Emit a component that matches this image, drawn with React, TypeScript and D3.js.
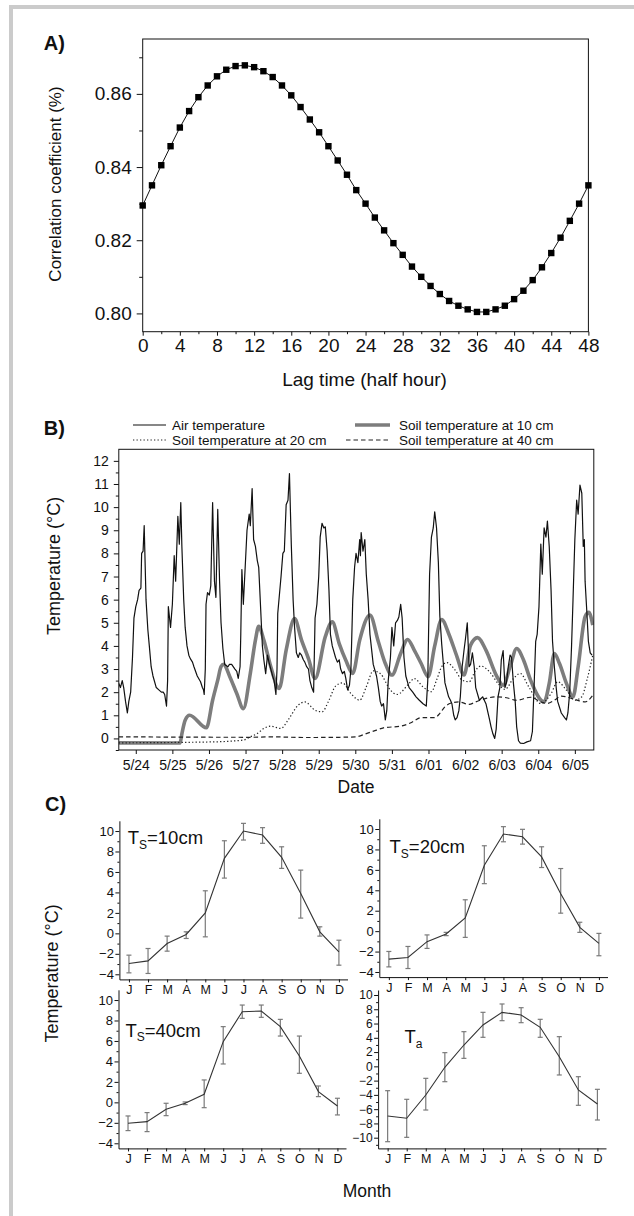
import React, { useRef, useEffect } from 'react';
import * as d3 from 'd3';

const W = 634;
const H = 1216;
const FONT = 'Arial, "Liberation Sans", Helvetica, sans-serif';

// ---------- A) correlation vs lag ----------
const lagSteps = d3.range(0, 49);
const corrCoef = [
  0.8295, 0.835, 0.8405, 0.8457, 0.8508, 0.8553, 0.8591, 0.8623, 0.8648, 0.8666,
  0.8676, 0.8678, 0.8673, 0.8662, 0.8646, 0.8623, 0.8596, 0.8564, 0.853, 0.8495,
  0.8457, 0.8418, 0.8379, 0.8337, 0.83, 0.8262, 0.8227, 0.8192, 0.816, 0.8128,
  0.81, 0.8075, 0.8053, 0.8034, 0.8021, 0.8011, 0.8004, 0.8004, 0.8011, 0.8021,
  0.8039, 0.8062, 0.8091, 0.8126, 0.8165, 0.8207, 0.8253, 0.83, 0.835,
];
const corrMajor = [0.8, 0.82, 0.84, 0.86];
const corrMinor = [0.81, 0.83, 0.85, 0.87];
const lagMajor = [0, 4, 8, 12, 16, 20, 24, 28, 32, 36, 40, 44, 48];
const lagMinor = [2, 6, 10, 14, 18, 22, 26, 30, 34, 38, 42, 46];

// ---------- B) temperatures, [days after 5/24 00:00, °C] ----------
const airTemp: [number, number][] = [
  [-0.47, 2.4], [-0.42, 2.2], [-0.37, 2.5], [-0.33, 2.2], [-0.28, 1.6], [-0.23, 1.1], [-0.19, 1.6], [-0.14, 2.0],
  [-0.09, 3.5], [-0.05, 5.2], [0.0, 5.7], [0.05, 6.0], [0.09, 6.4], [0.14, 6.5], [0.16, 8.0], [0.2, 8.1], [0.23, 9.2],
  [0.28, 6.0], [0.33, 4.7], [0.37, 4.0], [0.42, 3.1], [0.47, 2.7], [0.56, 2.2], [0.63, 2.1], [0.7, 2.0], [0.75, 2.0],
  [0.79, 1.9], [0.84, 1.4], [0.87, 2.5], [0.89, 5.7], [0.95, 4.8], [1.0, 5.8], [1.05, 7.9], [1.09, 6.8], [1.15, 9.6],
  [1.19, 8.4], [1.23, 10.2], [1.26, 8.3], [1.31, 6.0], [1.35, 4.8], [1.4, 4.0], [1.45, 3.6], [1.49, 3.45], [1.55, 3.3],
  [1.59, 3.1], [1.68, 2.7], [1.77, 2.45], [1.82, 2.2], [1.85, 2.1], [1.87, 1.9], [1.9, 3.0], [1.92, 5.8], [1.96, 6.3],
  [2.01, 6.2], [2.05, 6.6], [2.1, 10.2], [2.15, 6.8], [2.19, 6.1], [2.24, 9.9], [2.29, 6.8], [2.33, 5.0], [2.38, 3.9],
  [2.43, 3.2], [2.52, 3.1], [2.56, 3.2], [2.62, 3.2], [2.71, 3.0], [2.76, 2.9], [2.8, 2.6], [2.85, 3.1], [2.87, 4.5],
  [2.9, 7.3], [2.94, 5.8], [2.99, 7.4], [3.04, 9.0], [3.1, 9.7], [3.13, 9.2], [3.18, 10.8], [3.22, 8.6], [3.27, 8.3],
  [3.32, 7.7], [3.36, 7.4], [3.41, 5.7], [3.46, 4.0], [3.5, 3.4], [3.55, 2.8], [3.6, 3.6], [3.64, 3.3], [3.69, 3.0],
  [3.74, 2.7], [3.78, 2.5], [3.83, 1.9], [3.86, 3.0], [3.88, 5.4], [3.97, 7.0], [4.02, 8.0], [4.06, 8.1], [4.11, 10.1],
  [4.16, 10.3], [4.2, 11.45], [4.25, 8.4], [4.3, 6.0], [4.34, 4.8], [4.39, 3.7], [4.44, 3.5], [4.48, 3.7], [4.53, 3.6],
  [4.58, 3.4], [4.62, 3.3], [4.67, 3.1], [4.72, 3.0], [4.76, 2.5], [4.81, 2.2], [4.86, 2.0], [4.9, 5.2], [4.95, 5.8],
  [5.0, 7.0], [5.04, 8.7], [5.09, 9.3], [5.14, 9.1], [5.18, 9.15], [5.23, 8.1], [5.28, 6.4], [5.32, 4.5], [5.37, 4.0],
  [5.46, 3.5], [5.51, 3.3], [5.56, 3.4], [5.6, 3.0], [5.65, 2.8], [5.7, 2.9], [5.74, 2.6], [5.79, 2.1], [5.84, 2.3],
  [5.88, 3.0], [5.93, 6.0], [5.98, 7.4], [6.02, 8.0], [6.07, 7.6], [6.12, 8.6], [6.14, 7.9], [6.16, 8.9], [6.21, 8.1],
  [6.26, 8.6], [6.3, 7.1], [6.35, 6.0], [6.4, 4.5], [6.49, 3.2], [6.58, 2.7], [6.63, 2.2], [6.68, 1.6], [6.72, 1.4],
  [6.77, 1.5], [6.82, 0.8], [6.86, 1.2], [6.9, 2.5], [6.96, 3.5], [7.0, 4.8], [7.05, 4.0], [7.1, 5.0], [7.15, 5.1],
  [7.19, 5.25], [7.24, 5.8], [7.28, 5.2], [7.33, 3.5], [7.38, 2.7], [7.47, 2.2], [7.57, 2.0], [7.66, 1.8], [7.75, 1.65],
  [7.85, 1.5], [7.94, 1.4], [7.98, 2.5], [8.03, 7.1], [8.08, 8.7], [8.13, 9.1], [8.17, 9.8], [8.22, 9.1], [8.27, 7.6],
  [8.31, 5.3], [8.36, 4.1], [8.45, 2.4], [8.55, 1.8], [8.6, 1.65], [8.64, 1.5], [8.69, 1.0], [8.73, 0.8], [8.78, 0.9],
  [8.83, 1.2], [8.87, 1.8], [8.92, 3.1], [8.97, 3.8], [9.01, 4.3], [9.06, 5.0], [9.11, 3.1], [9.15, 3.2], [9.2, 3.7],
  [9.25, 3.1], [9.29, 2.2], [9.39, 1.65], [9.48, 1.8], [9.57, 1.5], [9.67, 0.8], [9.71, 0.5], [9.76, 0.2], [9.81, 0.0],
  [9.85, 0.4], [9.9, 1.8], [9.95, 2.2], [9.99, 3.4], [10.04, 3.8], [10.09, 2.2], [10.13, 2.4], [10.18, 3.1], [10.23, 3.6],
  [10.27, 3.5], [10.32, 2.4], [10.37, 1.6], [10.41, 0.5], [10.46, -0.1], [10.51, -0.2], [10.6, -0.22], [10.69, -0.15],
  [10.79, -0.1], [10.84, 0.3], [10.88, 2.0], [10.93, 4.2], [10.97, 4.5], [11.02, 5.7], [11.07, 8.4], [11.11, 7.1],
  [11.16, 9.1], [11.21, 8.7], [11.25, 9.4], [11.3, 8.3], [11.35, 6.4], [11.39, 4.2], [11.44, 3.1], [11.49, 2.2],
  [11.53, 1.6], [11.63, 1.1], [11.72, 0.9], [11.77, 0.8], [11.81, 1.1], [11.86, 2.0], [11.91, 4.0], [11.95, 6.0],
  [12.0, 8.6], [12.05, 10.3], [12.09, 9.7], [12.14, 10.95], [12.19, 10.6], [12.23, 8.3], [12.26, 8.6], [12.28, 6.8],
  [12.33, 5.4], [12.37, 4.2], [12.42, 3.7], [12.47, 3.6],
];
const soil10: [number, number][] = [
  [-0.47, -0.19], [1.21, -0.2], [1.26, 0.2], [1.35, 0.79], [1.47, 1.0], [1.93, 0.46], [2.1, 1.65], [2.24, 2.52],
  [2.33, 3.1], [2.4, 3.2], [2.57, 2.67], [2.76, 1.94], [2.94, 1.29], [3.13, 2.81], [3.27, 4.25], [3.36, 4.85],
  [3.5, 4.25], [3.69, 3.1], [3.92, 2.16], [4.11, 3.82], [4.34, 5.18], [4.53, 4.25], [4.72, 3.45], [4.9, 2.59],
  [5.18, 4.4], [5.37, 5.04], [5.56, 4.1], [5.74, 3.38], [5.93, 2.81], [6.12, 4.25], [6.4, 5.33], [6.63, 4.18],
  [6.82, 3.24], [7.0, 2.74], [7.24, 3.67], [7.43, 4.28], [7.61, 3.82], [7.8, 3.24], [7.99, 2.67], [8.17, 4.0],
  [8.36, 5.14], [8.55, 4.54], [8.78, 3.53], [8.97, 2.74], [9.15, 4.03], [9.34, 4.36], [9.57, 3.82], [9.85, 2.74],
  [10.04, 2.3], [10.23, 3.1], [10.41, 3.89], [10.6, 3.38], [10.79, 2.52], [11.16, 1.58], [11.3, 2.38], [11.44, 3.67],
  [11.58, 3.24], [11.77, 2.38], [11.95, 1.8], [12.09, 3.1], [12.28, 5.26], [12.38, 5.45], [12.49, 4.9],
];
const soil20: [number, number][] = [
  [-0.47, -0.19], [2.1, -0.15], [2.94, -0.07], [3.13, 0.07], [3.32, 0.21], [3.5, 0.43], [3.69, 0.53], [3.97, 0.43],
  [4.16, 0.79], [4.44, 1.44], [4.62, 1.58], [4.9, 1.22], [5.09, 1.15], [5.28, 1.65], [5.46, 2.26], [5.65, 2.4],
  [5.88, 1.94], [6.12, 1.65], [6.3, 2.23], [6.49, 2.92], [6.68, 2.81], [6.96, 2.09], [7.14, 1.9], [7.47, 2.38],
  [7.61, 2.59], [7.85, 2.23], [8.08, 2.02], [8.22, 2.52], [8.36, 3.1], [8.5, 3.28], [8.73, 2.95], [8.92, 2.52],
  [9.11, 2.45], [9.29, 2.95], [9.43, 3.13], [9.67, 2.88], [9.9, 2.38], [10.09, 2.12], [10.32, 2.59], [10.51, 2.81],
  [10.74, 2.23], [11.07, 1.51], [11.35, 1.94], [11.53, 2.45], [11.77, 2.09], [12.0, 1.65], [12.19, 1.8], [12.33, 2.52],
  [12.49, 3.6],
];
const soil40: [number, number][] = [
  [-0.47, 0.07], [3.13, 0.05], [3.69, 0.07], [4.62, 0.04], [5.56, 0.05], [6.02, 0.07], [6.3, 0.21], [6.58, 0.36],
  [6.77, 0.46], [7.24, 0.53], [7.52, 0.68], [7.8, 0.9], [8.17, 0.9], [8.31, 1.08], [8.45, 1.37], [8.64, 1.54],
  [8.83, 1.58], [9.11, 1.47], [9.29, 1.58], [9.57, 1.73], [9.85, 1.8], [10.13, 1.76], [10.41, 1.65], [10.79, 1.78],
  [11.07, 1.58], [11.25, 1.51], [11.44, 1.65], [11.63, 1.83], [11.91, 1.73], [12.28, 1.58], [12.49, 1.87],
];
const dateLabels = ['5/24', '5/25', '5/26', '5/27', '5/28', '5/29', '5/30', '5/31', '6/01', '6/02', '6/03', '6/04', '6/05'];
const tempTicksB = [0, 1, 2, 3, 4, 5, 6, 7, 8, 9, 10, 11, 12];
const tempMinorB = [-0.5, 0.5, 1.5, 2.5, 3.5, 4.5, 5.5, 6.5, 7.5, 8.5, 9.5, 10.5, 11.5];
const legendB = ['Air temperature', 'Soil temperature at 10 cm', 'Soil temperature at 20 cm', 'Soil temperature at 40 cm'];

// ---------- C) monthly means with error bars ----------
const months = ['J', 'F', 'M', 'A', 'M', 'J', 'J', 'A', 'S', 'O', 'N', 'D'];
const ts10Mean = [-2.95, -2.69, -0.99, -0.11, 2.0, 7.33, 10.0, 9.61, 7.43, 3.9, 0.15, -1.81];
const ts10Hi = [-2.13, -1.48, -0.27, 0.15, 4.16, 9.05, 10.75, 10.33, 8.46, 6.18, 0.64, -0.67];
const ts10Lo = [-3.86, -3.92, -1.74, -0.5, -0.34, 5.4, 9.12, 8.8, 6.35, 1.49, -0.27, -3.11];
const ts20Mean = [-2.74, -2.58, -1.03, -0.28, 1.3, 6.45, 9.51, 9.24, 7.27, 3.67, 0.37, -1.2];
const ts20Hi = [-1.99, -1.5, -0.37, -0.12, 3.07, 8.36, 10.23, 9.97, 8.26, 6.13, 0.87, -0.22];
const ts20Lo = [-3.5, -3.66, -1.69, -0.44, -0.61, 4.65, 8.75, 8.52, 6.23, 1.76, -0.12, -2.41];
const ts40Mean = [-2.04, -1.88, -0.68, -0.09, 0.79, 5.93, 8.86, 8.93, 7.4, 4.53, 1.05, -0.35];
const ts40Hi = [-1.33, -1.0, -0.09, 0.04, 2.19, 7.4, 9.51, 9.51, 8.11, 6.48, 1.6, 0.4];
const ts40Lo = [-2.76, -2.86, -1.3, -0.22, -0.52, 3.75, 8.21, 8.31, 6.48, 2.84, 0.56, -1.23];
const taMean = [-6.96, -7.28, -4.02, -0.13, 2.99, 5.8, 7.57, 7.2, 5.47, 1.35, -3.31, -5.28];
const taHi = [-3.41, -4.62, -1.68, 1.92, 4.86, 7.57, 8.74, 8.22, 6.59, 4.16, -1.45, -3.22];
const taLo = [-10.56, -9.95, -6.12, -2.15, 1.12, 4.07, 6.4, 6.12, 4.07, -1.21, -5.46, -7.52];
const soilTicks = [-4, -2, 0, 2, 4, 6, 8, 10];
const soilMinor = [-3, -1, 1, 3, 5, 7, 9];
const airTicks = [-10, -8, -6, -4, -2, 0, 2, 4, 6, 8, 10];
const airMinor = [-11, -9, -7, -5, -3, -1, 1, 3, 5, 7, 9];

const baseDay = new Date(2010, 4, 24).getTime();
const dayDate = (t: number) => new Date(baseDay + t * 864e5);
const parseDate = d3.timeParse('%Y/%m/%d');

function styleAxis(g: any, size: number) {
  g.attr('font-family', FONT).attr('font-size', size);
  g.selectAll('.tick text').attr('fill', '#111');
  g.selectAll('.tick line').attr('stroke', '#111');
}

const App: React.FC = () => {
  const svgRef = useRef<SVGSVGElement>(null);

  useEffect(() => {
    if (!svgRef.current) return;
    const svg = d3.select(svgRef.current);
    svg.selectAll('*').remove();

    svg.append('rect').attr('width', W).attr('height', H).attr('fill', '#fff');
    // light grey page frame (left and top)
    svg.append('rect').attr('x', 9).attr('y', 5).attr('width', W - 9).attr('height', 4).attr('fill', '#cbcbcb');
    svg.append('rect').attr('x', 9).attr('y', 5).attr('width', 4).attr('height', H - 5).attr('fill', '#cbcbcb');

    const text = (x: number, y: number, s: string, size: number, anchor = 'start', weight = 'normal') =>
      svg.append('text').attr('x', x).attr('y', y).attr('font-family', FONT).attr('font-size', size)
        .attr('font-weight', weight).attr('text-anchor', anchor).attr('fill', '#111').text(s);
    const yTitle = (x: number, y: number, s: string, size: number) =>
      svg.append('text').attr('transform', `translate(${x},${y}) rotate(-90)`).attr('text-anchor', 'middle')
        .attr('font-family', FONT).attr('font-size', size).attr('fill', '#111').text(s);

    // ================= A =================
    const ax = d3.scaleLinear().domain([0, 48]).range([142.7, 588.4]);
    const ay = d3.scaleLinear().domain([0.795, 0.875]).range([331.7, 39]);
    const gA = svg.append('g');
    gA.append('g').attr('transform', `translate(${ax(0)},0)`)
      .call(d3.axisLeft(ay).tickValues(corrMajor).tickFormat(d3.format('.2f')).tickSize(6).tickPadding(5).tickSizeOuter(0))
      .call(styleAxis, 19).call(g => g.select('.domain').remove());
    gA.append('g').attr('transform', `translate(${ax(0)},0)`)
      .call(d3.axisLeft(ay).tickValues(corrMinor).tickFormat(() => '').tickSize(3.5).tickSizeOuter(0))
      .call(styleAxis, 19).call(g => g.select('.domain').remove());
    gA.append('g').attr('transform', `translate(0,${ay.range()[0]})`)
      .call(d3.axisBottom(ax).tickValues(lagMajor).tickFormat(d3.format('d')).tickSize(4).tickPadding(3).tickSizeOuter(0))
      .call(styleAxis, 19).call(g => g.select('.domain').remove());
    gA.append('g').attr('transform', `translate(0,${ay.range()[0]})`)
      .call(d3.axisBottom(ax).tickValues(lagMinor).tickFormat(() => '').tickSize(2.5).tickSizeOuter(0))
      .call(styleAxis, 19).call(g => g.select('.domain').remove());
    gA.append('rect').attr('x', ax(0)).attr('y', ay.range()[1])
      .attr('width', ax(48) - ax(0)).attr('height', ay.range()[0] - ay.range()[1])
      .attr('fill', 'none').attr('stroke', '#111').attr('stroke-width', 1);
    const corrPts = lagSteps.map((l, i) => [l, corrCoef[i]] as [number, number]);
    gA.append('path').datum(corrPts)
      .attr('d', d3.line<[number, number]>().x(d => ax(d[0])).y(d => ay(d[1])))
      .attr('fill', 'none').attr('stroke', '#111').attr('stroke-width', 1);
    gA.selectAll('.sq').data(corrPts).enter().append('rect')
      .attr('x', d => ax(d[0]) - 3.2).attr('y', d => ay(d[1]) - 3.2)
      .attr('width', 6.4).attr('height', 6.4).attr('fill', '#000');
    text(43.7, 50, 'A)', 20, 'start', 'bold');
    text(364.5, 386, 'Lag time (half hour)', 19, 'middle');
    yTitle(61, 184, 'Correlation coefficient (%)', 17);

    // ================= B =================
    const bx = d3.scaleTime().domain([dayDate(-0.464), dayDate(12.518)]).range([118.8, 593.8]);
    const by = d3.scaleLinear().domain([-0.5, 12.5]).range([750, 449.3]);
    const gB = svg.append('g');
    gB.append('g').attr('transform', `translate(${bx.range()[0]},0)`)
      .call(d3.axisLeft(by).tickValues(tempTicksB).tickFormat(d3.format('d')).tickSize(5).tickPadding(5).tickSizeOuter(0))
      .call(styleAxis, 14).call(g => g.select('.domain').remove());
    gB.append('g').attr('transform', `translate(${bx.range()[0]},0)`)
      .call(d3.axisLeft(by).tickValues(tempMinorB).tickFormat(() => '').tickSize(3).tickSizeOuter(0))
      .call(styleAxis, 14).call(g => g.select('.domain').remove());
    const dateTicks = dateLabels.map(s => parseDate('2010/' + s) as Date);
    gB.append('g').attr('transform', `translate(0,${by.range()[0]})`)
      .call(d3.axisBottom(bx).tickValues(dateTicks).tickFormat((d, i) => dateLabels[i]).tickSize(4).tickPadding(6).tickSizeOuter(0))
      .call(styleAxis, 14).call(g => g.select('.domain').remove());

    svg.append('clipPath').attr('id', 'clipB').append('rect')
      .attr('x', bx.range()[0]).attr('y', by.range()[1])
      .attr('width', bx.range()[1] - bx.range()[0]).attr('height', by.range()[0] - by.range()[1]);
    const lineB = d3.line<[number, number]>().x(d => bx(dayDate(d[0]))).y(d => by(d[1]));
    const plotB = gB.append('g').attr('clip-path', 'url(#clipB)');
    plotB.append('path').datum(soil10).attr('d', lineB.curve(d3.curveMonotoneX))
      .attr('fill', 'none').attr('stroke', '#7d7d7d').attr('stroke-width', 3.6).attr('stroke-linejoin', 'round');
    plotB.append('path').datum(soil20).attr('d', lineB.curve(d3.curveMonotoneX))
      .attr('fill', 'none').attr('stroke', '#222').attr('stroke-width', 1.2).attr('stroke-dasharray', '1.3,2.2');
    plotB.append('path').datum(soil40).attr('d', lineB.curve(d3.curveMonotoneX))
      .attr('fill', 'none').attr('stroke', '#222').attr('stroke-width', 1.2).attr('stroke-dasharray', '4.5,3');
    plotB.append('path').datum(airTemp).attr('d', lineB.curve(d3.curveLinear))
      .attr('fill', 'none').attr('stroke', '#111').attr('stroke-width', 1.2).attr('stroke-linejoin', 'round');
    gB.append('rect').attr('x', bx.range()[0]).attr('y', by.range()[1])
      .attr('width', bx.range()[1] - bx.range()[0]).attr('height', by.range()[0] - by.range()[1])
      .attr('fill', 'none').attr('stroke', '#111').attr('stroke-width', 1);

    // legend, two rows of two entries
    const leg = svg.append('g');
    const legRows = [
      { x1: 133, x2: 166, y: 425, tx: 172, ty: 429.5, stroke: '#111', w: 1.2, dash: null as string | null },
      { x1: 355, x2: 390, y: 425, tx: 399, ty: 429.5, stroke: '#7d7d7d', w: 3.6, dash: null },
      { x1: 133, x2: 167, y: 440, tx: 172, ty: 444.5, stroke: '#222', w: 1.2, dash: '1.3,2.2' },
      { x1: 346, x2: 389, y: 440, tx: 399, ty: 444.5, stroke: '#222', w: 1.2, dash: '4.5,3' },
    ];
    legRows.forEach((r, i) => {
      leg.append('line').attr('x1', r.x1).attr('x2', r.x2).attr('y1', r.y).attr('y2', r.y)
        .attr('stroke', r.stroke).attr('stroke-width', r.w).attr('stroke-dasharray', r.dash);
      leg.append('text').attr('x', r.tx).attr('y', r.ty).attr('font-family', FONT).attr('font-size', 13.5)
        .attr('fill', '#111').text(legendB[i]);
    });
    text(43.7, 435, 'B)', 20, 'start', 'bold');
    text(356, 793, 'Date', 17.5, 'middle');
    yTitle(60, 566, 'Temperature (°C)', 18);

    // ================= C =================
    const subs = [
      { x0: 119.4, x1: 347.5, yb: 979.4, yt: 820.8, dom: [-4.5, 11], ticks: soilTicks, minor: soilMinor, fs: 13,
        mean: ts10Mean, hi: ts10Hi, lo: ts10Lo, sub: 'S', rest: '=10cm', lx: 127.7, ly: 844 },
      { x0: 379.3, x1: 607.5, yb: 977.1, yt: 818.8, dom: [-4.5, 11], ticks: soilTicks, minor: soilMinor, fs: 13,
        mean: ts20Mean, hi: ts20Hi, lo: ts20Lo, sub: 'S', rest: '=20cm', lx: 389.5, ly: 853.3 },
      { x0: 118.5, x1: 346, yb: 1148.4, yt: 989.8, dom: [-4.5, 11], ticks: soilTicks, minor: soilMinor, fs: 13,
        mean: ts40Mean, hi: ts40Hi, lo: ts40Lo, sub: 'S', rest: '=40cm', lx: 125.4, ly: 1036.7 },
      { x0: 378.1, x1: 606, yb: 1148.4, yt: 990, dom: [-11.5, 10.7], ticks: airTicks, minor: airMinor, fs: 12,
        mean: taMean, hi: taHi, lo: taLo, sub: 'a', rest: '', lx: 404.4, ly: 1043.3 },
    ];
    subs.forEach(c => {
      const g = svg.append('g');
      const cx = d3.scaleLinear().domain([-0.5, 11.45]).range([c.x0, c.x1]);
      const cy = d3.scaleLinear().domain(c.dom).range([c.yb, c.yt]);
      g.append('g').attr('transform', `translate(${c.x0},0)`)
        .call(d3.axisLeft(cy).tickValues(c.ticks).tickFormat(d3.format('d')).tickSize(4).tickPadding(1.5).tickSizeOuter(0))
        .call(styleAxis, c.fs).call(gg => gg.select('.domain').attr('stroke', '#111'));
      g.append('g').attr('transform', `translate(${c.x0},0)`)
        .call(d3.axisLeft(cy).tickValues(c.minor).tickFormat(() => '').tickSize(2).tickSizeOuter(0))
        .call(styleAxis, c.fs).call(gg => gg.select('.domain').remove());
      g.append('g').attr('transform', `translate(0,${c.yb})`)
        .call(d3.axisBottom(cx).tickValues(d3.range(12)).tickFormat((d, i) => months[i]).tickSize(3).tickPadding(3).tickSizeOuter(0))
        .call(styleAxis, 12.5).call(gg => gg.select('.domain').attr('stroke', '#111'));
      const bars = g.append('g').attr('stroke', '#7a7a7a').attr('stroke-width', 1.2);
      c.mean.forEach((_, i) => {
        const x = cx(i);
        bars.append('line').attr('x1', x).attr('x2', x).attr('y1', cy(c.lo[i])).attr('y2', cy(c.hi[i]));
        bars.append('line').attr('x1', x - 2.5).attr('x2', x + 2.5).attr('y1', cy(c.lo[i])).attr('y2', cy(c.lo[i]));
        bars.append('line').attr('x1', x - 2.5).attr('x2', x + 2.5).attr('y1', cy(c.hi[i])).attr('y2', cy(c.hi[i]));
      });
      g.append('path').datum(c.mean)
        .attr('d', d3.line<number>().x((_, i) => cx(i)).y(d => cy(d)))
        .attr('fill', 'none').attr('stroke', '#333').attr('stroke-width', 1.1);
      const t = g.append('text').attr('x', c.lx).attr('y', c.ly).attr('font-family', FONT)
        .attr('font-size', 18.5).attr('fill', '#111');
      t.append('tspan').text('T');
      t.append('tspan').attr('font-size', 12).attr('dy', 4.5).text(c.sub);
      if (c.rest) t.append('tspan').attr('dy', -4.5).text(c.rest);
    });
    text(45, 811, 'C)', 20, 'start', 'bold');
    text(367, 1197, 'Month', 17.5, 'middle');
    yTitle(58, 973.5, 'Temperature (°C)', 18);
  }, []);

  return (
    <div style={{ position: 'absolute', left: 0, top: 0, width: W, height: H, background: '#fff' }}>
      <svg ref={svgRef} width={W} height={H} viewBox={`0 0 ${W} ${H}`} style={{ display: 'block' }} />
    </div>
  );
};

export default App;
